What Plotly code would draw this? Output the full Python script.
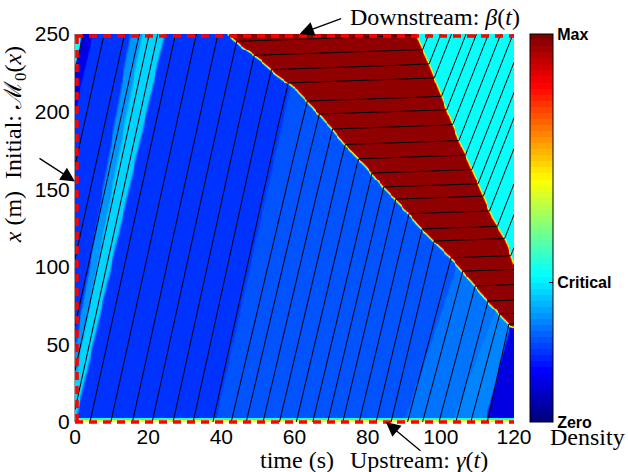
import numpy as np
import plotly.graph_objects as go

# ---------------- axes ----------------
T_MAX = 120.0
X_MAX = 250.0
t_ticks = [0, 20, 40, 60, 80, 100, 120]
x_ticks = [0, 50, 100, 150, 200, 250]

# colour-bar ticks (fraction of max density)
cbar_vals = [0.0, 0.36, 1.0]
cbar_text = ["Zero", "Critical", "Max"]

V_MAIN = 0.18      # main free-flow blue
V_L1 = 0.21        # lighter blue after t~38 s
V_L2 = 0.24
V_L3 = 0.255
V_DARK = 0.10      # near-empty dark blue
V_HALO = 0.275     # edge of the initial platoon
V_CORE = 0.34      # core of the initial platoon
V_CYAN = 0.378     # critical (downstream discharge)
V_RED = 0.975      # jam
V_BOTTOM_Y = 0.62  # upstream boundary row
V_BOTTOM_C = 0.40

# ---------------- shocks (time s, position m) ----------------
shock_left_t = [41.7, 45.5, 50.5, 55.0, 60.5, 65.9, 70.0, 75.0, 79.5, 84.1,
                88.6, 94.1, 98.6, 103.2, 108.6, 113.2, 119.1, 120.0]
shock_left_x = [250.0, 242.0, 233.4, 223.8, 214.1, 200.2, 189.4, 175.3, 164.5, 151.6,
                140.9, 125.8, 115.1, 104.4, 89.4, 76.5, 61.4, 61.0]
shock_right_t = [93.2, 96.8, 101.4, 105.0, 109.5, 114.1, 117.7, 120.0]
shock_right_x = [250.0, 230.2, 202.3, 180.9, 157.2, 131.4, 117.0, 101.0]

# band edges: (time at x=0, time at x=250)
band_halo_left = (-3.5, 15.2)
band_core_left = (-2.1, 18.4)
band_strip_right = (0.1, 24.5)
band_light1 = (38.3, 62.1)
band_light2 = (90.0, 125.7)
band_light3 = (103.0, 144.7)
band_dark = (112.3, 139.2)
# top-left corner of the initial condition (x - v*t bands)
topleft_speed = 10.5
topleft_dark = (200.0, 228.0)

# ---------------- vehicle trajectories ----------------
init_x = [226, 165, 105, 62, 33, 8]                         # at t = 0
entry_t = [4.1, 9.8, 15.7, 21.1, 26.8, 32.3, 37.7, 42.7, 46.8, 51.4, 55.9, 60.5,
           65.0, 69.1, 73.2, 77.7, 82.3, 86.4, 90.9, 95.0, 99.5, 104.1, 108.2, 112.7]
speed_band_t = [38.3, 88.0, 112.0]
speed_band_v = [10.7, 10.0, 9.0, 11.0]
speed_jam = 0.08
speed_cyan = 6.0


def band_t(pair, x):
    return pair[0] + (pair[1] - pair[0]) * x / X_MAX


def density(T, X):
    z = np.full(T.shape, V_MAIN)
    z[T >= band_t(band_light1, X)] = V_L1
    z[T >= band_t(band_light2, X)] = V_L2
    z[T >= band_t(band_light3, X)] = V_L3
    z[T >= band_t(band_dark, X)] = V_DARK
    halo = (T >= band_t(band_halo_left, X)) & (T < band_t(band_core_left, X))
    core = (T >= band_t(band_core_left, X)) & (T < band_t(band_strip_right, X))
    z[halo] = V_HALO
    z[core] = V_CORE
    u = X - topleft_speed * T
    z[(u >= topleft_dark[0]) & (u < topleft_dark[1])] = V_DARK
    z[u >= topleft_dark[1]] = V_CYAN
    xl = np.interp(T, shock_left_t, shock_left_x, left=np.inf)
    xr = np.interp(T, shock_right_t, shock_right_x, left=np.inf)
    z[X >= xl] = V_RED
    z[X >= xr] = V_CYAN
    return z


nt, nx = 480, 400
dtc = T_MAX / nt
dxc = X_MAX / nx
tc = (np.arange(nt) + 0.5) * dtc
xc = (np.arange(nx) + 0.5) * dxc
TT, XX = np.meshgrid(tc, xc)
acc = np.zeros(TT.shape)
for ot in (-0.25, 0.25):
    for ox in (-0.25, 0.25):
        acc += density(TT + ot * dtc, XX + ox * dxc)
z = acc / 4.0
p = np.pad(z, 1, mode="edge")
z = sum(p[i:i + nx, j:j + nt] for i in range(3) for j in range(3)) / 9.0
z[xc < 1.3, :] = V_BOTTOM_Y
z[(xc >= 1.3) & (xc < 2.6), :] = V_BOTTOM_C
z = np.round(z, 3)


def jet(v):
    r = np.clip(min(4 * v - 1.5, -4 * v + 4.5), 0, 1)
    g = np.clip(min(4 * v - 0.5, -4 * v + 3.5), 0, 1)
    b = np.clip(min(4 * v + 0.5, -4 * v + 2.5), 0, 1)
    return "rgb(%d,%d,%d)" % (round(r * 255), round(g * 255), round(b * 255))


jet64 = []
for k in range(64):
    c = jet(k / 63)
    jet64.append([k / 64, c])
    jet64.append([(k + 1) / 64, c])

# trajectories by stepping through the speed regions
h = 0.02
tgrid = np.arange(0, T_MAX + h, h)
XL = np.interp(tgrid, shock_left_t, shock_left_x, left=np.inf)
XR = np.interp(tgrid, shock_right_t, shock_right_x, left=np.inf)


def trajectory(t0, x0, vb):
    i = int(round(t0 / h))
    x = x0
    ts, xs = [tgrid[i]], [x]
    while i < len(tgrid) - 1 and x < X_MAX:
        if x >= XR[i]:
            v = speed_cyan
        elif x >= XL[i]:
            v = speed_jam
        else:
            v = vb
        x = min(x + v * h, X_MAX)
        i += 1
        if i % 5 == 0 or x >= X_MAX or i == len(tgrid) - 1:
            ts.append(tgrid[i])
            xs.append(x)
    return ts, xs


lt, lx = [], []
for x0 in init_x:
    a, b = trajectory(0.0, float(x0), speed_band_v[0])
    lt += a + [None]
    lx += b + [None]
for s in entry_t:
    vb = speed_band_v[int(np.searchsorted(speed_band_t, s, side="right"))]
    a, b = trajectory(s, 0.0, vb)
    lt += a + [None]
    lx += b + [None]

fig = go.Figure()
fig.add_trace(go.Heatmap(
    z=z, x0=dtc / 2, dx=dtc, y0=dxc / 2, dy=dxc, zmin=0, zmax=1, zsmooth=False,
    colorscale=jet64, hoverinfo="skip",
    colorbar=dict(x=(532 - 75) / 441, xanchor="left", xref="paper", y=0.5, yanchor="middle",
                  len=388, lenmode="pixels", thickness=23, thicknessmode="pixels",
                  xpad=0, ypad=0, outlinewidth=1, outlinecolor="black",
                  tickvals=cbar_vals, ticktext=cbar_text, ticks="inside", ticklen=4,
                  tickcolor="black",
                  tickfont=dict(family="Liberation Sans", size=16, color="black", weight="bold"))))
fig.add_trace(go.Scatter(x=lt, y=lx, mode="lines", line=dict(color="black", width=1),
                         hoverinfo="skip", showlegend=False))

dash = dict(color="rgb(255,0,0)", width=3.5, dash="8px,6px")
fig.add_shape(type="line", xref="paper", yref="paper", x0=0, x1=1, y0=1 - 2 / 388, y1=1 - 2 / 388, line=dash, layer="above")
fig.add_shape(type="line", xref="paper", yref="paper", x0=0, x1=1, y0=0, y1=0, line=dash, layer="above")
fig.add_shape(type="line", xref="paper", yref="paper", x0=2 / 441, x1=2 / 441, y0=0, y1=1, line=dash, layer="above")

serif = dict(family="Liberation Serif", size=24, color="black")
ann = [
    dict(text="Downstream: <i>β</i>(<i>t</i>)", x=(350 - 75) / 441, y=(422 - 17) / 388,
         xref="paper", yref="paper", xanchor="left", yanchor="middle", showarrow=False, font=serif, borderpad=0),
    dict(text="Upstream: <i>γ</i>(<i>t</i>)", x=(350 - 75) / 441, y=(422 - 460) / 388,
         xref="paper", yref="paper", xanchor="left", yanchor="middle", showarrow=False, font=serif, borderpad=0),
    dict(text="time (s)", x=(298 - 75) / 441, y=(422 - 460) / 388,
         xref="paper", yref="paper", xanchor="center", yanchor="middle", showarrow=False, font=serif, borderpad=0),
    dict(text="Density", x=(590 - 75) / 441, y=(422 - 437) / 388,
         xref="paper", yref="paper", xanchor="center", yanchor="middle", showarrow=False, font=serif, borderpad=0),
    dict(text="<i>x</i> (m)\u00a0\u00a0Initial: ℳ<sub>0</sub>(<i>x</i>)", textangle=-90,
         x=(15 - 75) / 441, y=(422 - 145) / 388,
         xref="paper", yref="paper", xanchor="center", yanchor="middle", showarrow=False, font=serif, borderpad=0),
]
arrow = dict(text="", showarrow=True, arrowhead=2, arrowsize=2.2, arrowwidth=1.3,
             arrowcolor="black", xref="x", yref="y", standoff=0)
ann.append(dict(arrow, x=61.4, y=250, ax=43, ay=-16))
ann.append(dict(arrow, x=85, y=0, ax=36, ay=30))
ann.append(dict(arrow, x=0, y=155, ax=-37, ay=-24))

fig.update_layout(width=628, height=472, margin=dict(l=75, r=112, t=34, b=50),
                  paper_bgcolor="white", plot_bgcolor="white", showlegend=False,
                  annotations=ann)
tickfont = dict(family="Liberation Sans", size=21, color="black")
fig.update_xaxes(range=[0, T_MAX], tickvals=t_ticks, showgrid=False, zeroline=False,
                 ticks="", tickfont=tickfont, showline=False)
fig.update_yaxes(range=[0, X_MAX], tickvals=x_ticks, showgrid=False, zeroline=False,
                 ticks="", tickfont=tickfont, showline=True, linecolor="#a0a0a0", linewidth=1)
fig.write_html("out.html")
